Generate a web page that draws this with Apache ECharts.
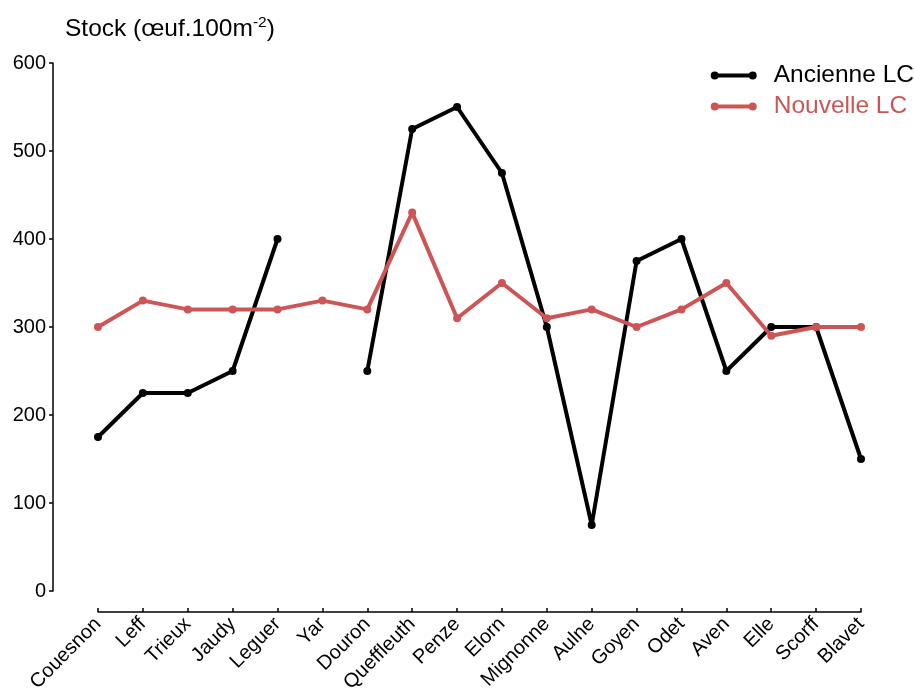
<!DOCTYPE html>
<html><head><meta charset="utf-8">
<script src="https://cdn.jsdelivr.net/npm/echarts@6/dist/echarts.min.js"></script>
<style>html,body{margin:0;padding:0;background:#fff}#c{width:914px;height:690px}</style>
</head><body><div id="c"></div>
<script>
const categories = ["Couesnon","Leff","Trieux","Jaudy","Leguer","Yar","Douron","Queffleuth","Penze","Elorn","Mignonne","Aulne","Goyen","Odet","Aven","Elle","Scorff","Blavet"];
const ancienne = [175,225,225,250,400,null,250,525,550,475,300,75,375,400,250,300,300,150];
const nouvelle = [300,330,320,320,320,330,320,430,310,350,310,320,300,320,350,290,300,300];
const yTicks = [0,100,200,300,400,500,600];
const RED = '#CD5555';
const FONT = 'Liberation Sans, Arial, sans-serif';
const ICON = 'path://M0,4A4,4 0 1,1 8,4A4,4 0 1,1 0,4ZM38,4A4,4 0 1,1 46,4A4,4 0 1,1 38,4ZM4,2L42,2L42,6L4,6Z';
const chart = echarts.init(document.getElementById('c'));
chart.setOption({
  animation:false,
  textStyle:{fontFamily:FONT},
  title:{
    text:'{a|Stock (œuf.100m}{s|-2}{a|)}',
    left:60, top:10,
    textStyle:{fontWeight:'normal',rich:{
      a:{fontSize:24.5,color:'#000',fontFamily:FONT,fontWeight:'normal'},
      s:{fontSize:15.5,color:'#000',fontFamily:FONT,fontWeight:'normal',verticalAlign:'top',padding:[0,0,12,0]}
    }}
  },
  legend:{
    top:63, right:0, padding:0, orient:'vertical', itemGap:6,
    itemWidth:46, itemHeight:8, icon:ICON,
    textStyle:{fontSize:24.5,fontFamily:FONT,padding:[0,0,0,12]},
    data:[
      {name:'Ancienne LC',textStyle:{color:'#000'}},
      {name:'Nouvelle LC',textStyle:{color:RED}}
    ]
  },
  grid:{left:98,right:53,top:63,bottom:99,containLabel:false,outerBoundsMode:'none'},
  xAxis:{
    type:'category', data:categories, boundaryGap:false, offset:21,
    axisLine:{onZero:false,lineStyle:{color:'#000',width:1.5}},
    axisTick:{inside:true,length:4,lineStyle:{color:'#000',width:1.5},alignWithLabel:true},
    axisLabel:{rotate:45,fontSize:20,color:'#000',margin:9,interval:0,fontFamily:FONT},
    splitLine:{show:false}
  },
  yAxis:{
    type:'value', min:yTicks[0], max:yTicks[yTicks.length-1], interval:100, offset:45,
    axisLine:{show:true,onZero:false,lineStyle:{color:'#000',width:1.5}},
    axisTick:{show:true,length:4,lineStyle:{color:'#000',width:1.5}},
    axisLabel:{fontSize:20,color:'#000',margin:7,fontFamily:FONT},
    splitLine:{show:false}
  },
  series:[
    {name:'Ancienne LC',type:'line',data:ancienne,connectNulls:false,
     symbol:'circle',symbolSize:8,lineStyle:{color:'#000',width:4},itemStyle:{color:'#000'},z:2},
    {name:'Nouvelle LC',type:'line',data:nouvelle,
     symbol:'circle',symbolSize:8,lineStyle:{color:RED,width:4},itemStyle:{color:RED},z:3}
  ]
});
</script></body></html>
